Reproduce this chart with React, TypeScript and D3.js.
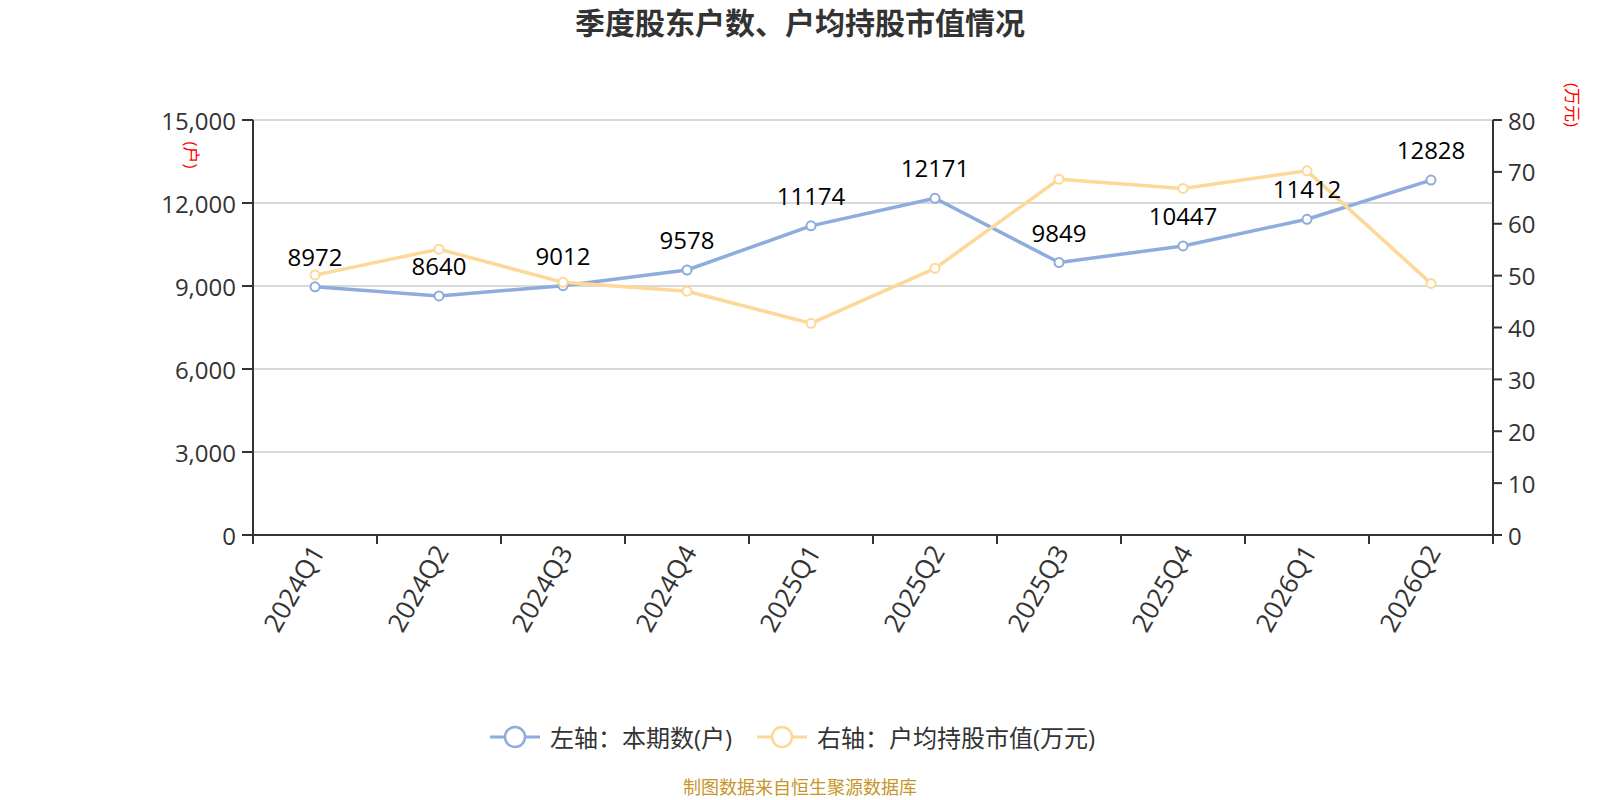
import React from "react";
import * as d3 from "d3";

const categories = ["2024Q1","2024Q2","2024Q3","2024Q4","2025Q1","2025Q2","2025Q3","2025Q4","2026Q1","2026Q2"];
const holders = [8972, 8640, 9012, 9578, 11174, 12171, 9849, 10447, 11412, 12828];
const avgValue = [50.1, 55.1, 48.7, 47.0, 40.8, 51.4, 68.6, 66.8, 70.2, 48.5];
const leftTicks = [0, 3000, 6000, 9000, 12000, 15000];
const rightTicks = [0, 10, 20, 30, 40, 50, 60, 70, 80];
const title = "季度股东户数、户均持股市值情况";
const legendNames = ["左轴：本期数(户)", "右轴：户均持股市值(万元)"];
const footer = "制图数据来自恒生聚源数据库";

const W = 1600, H = 800;
const M = { left: 253, right: 1493, top: 120, bottom: 535 };
const BLUE = "#8eacdc";
const ORANGE = "#fdd898";
const FONT = "'Open Sans', 'Noto Sans CJK SC', sans-serif";

export default function App() {
  const x = d3.scaleBand<string>().domain(categories).range([M.left, M.right]);
  const yL = d3.scaleLinear().domain([0, 15000]).range([M.bottom, M.top]);
  const yR = d3.scaleLinear().domain([0, 80]).range([M.bottom, M.top]);
  const cx = (c: string) => (x(c) as number) + x.bandwidth() / 2;
  const lineL = d3.line<number>().x((_, i) => cx(categories[i])).y((d) => yL(d));
  const lineR = d3.line<number>().x((_, i) => cx(categories[i])).y((d) => yR(d));
  const boundaries = categories.map((c) => x(c) as number).concat([M.right]);

  return (
    <svg width={W} height={H} style={{ position: "absolute", left: 0, top: 0, background: "#fff" }} fontFamily={FONT}>
      <text x={800} y={34} textAnchor="middle" fontSize={30} fontWeight="bold" fill="#333">{title}</text>

      {/* grid */}
      {leftTicks.map((t) => (
        <line key={"g" + t} x1={M.left} x2={M.right} y1={yL(t)} y2={yL(t)} stroke="#ccc" strokeWidth={1.5} />
      ))}

      {/* left axis */}
      <line x1={M.left} x2={M.left} y1={M.top} y2={M.bottom} stroke="#333" strokeWidth={2} />
      {leftTicks.map((t) => (
        <g key={"l" + t}>
          <line x1={M.left - 11} x2={M.left} y1={yL(t)} y2={yL(t)} stroke="#333" strokeWidth={2} />
          <text x={M.left - 17} y={yL(t)} textAnchor="end" dominantBaseline="central" fontSize={24} fill="#333">{d3.format(",")(t)}</text>
        </g>
      ))}
      <text transform={`translate(191,155) rotate(90)`} textAnchor="middle" dominantBaseline="central" fontSize={17} fill="#ff0000">(户)</text>

      {/* right axis */}
      <line x1={M.right} x2={M.right} y1={M.top} y2={M.bottom} stroke="#333" strokeWidth={2} />
      {rightTicks.map((t) => (
        <g key={"r" + t}>
          <line x1={M.right} x2={M.right + 9} y1={yR(t)} y2={yR(t)} stroke="#333" strokeWidth={2} />
          <text x={M.right + 15} y={yR(t)} textAnchor="start" dominantBaseline="central" fontSize={24} fill="#333">{t}</text>
        </g>
      ))}
      <text transform={`translate(1572,105) rotate(90)`} textAnchor="middle" dominantBaseline="central" fontSize={17} fill="#ff0000">(万元)</text>

      {/* x axis */}
      <line x1={M.left} x2={M.right} y1={M.bottom} y2={M.bottom} stroke="#333" strokeWidth={2} />
      {boundaries.map((b, i) => (
        <line key={"xt" + i} x1={b} x2={b} y1={M.bottom} y2={M.bottom + 9} stroke="#333" strokeWidth={2} />
      ))}
      {categories.map((c) => (
        <text key={"xl" + c} transform={`translate(${cx(c) + 2},${M.bottom + 12}) rotate(-60)`} textAnchor="end" dominantBaseline="central" fontSize={26} fill="#333">{c}</text>
      ))}

      {/* lines */}
      <path d={lineL(holders) || ""} fill="none" stroke={BLUE} strokeWidth={3.5} strokeLinejoin="round" />
      <path d={lineR(avgValue) || ""} fill="none" stroke={ORANGE} strokeWidth={3.5} strokeLinejoin="round" />
      {holders.map((v, i) => (
        <circle key={"bp" + i} cx={cx(categories[i])} cy={yL(v)} r={4.5} fill="#fff" stroke={BLUE} strokeWidth={2} />
      ))}
      {avgValue.map((v, i) => (
        <circle key={"op" + i} cx={cx(categories[i])} cy={yR(v)} r={4.5} fill="#fff" stroke={ORANGE} strokeWidth={2} />
      ))}
      {holders.map((v, i) => (
        <text key={"dl" + i} x={cx(categories[i])} y={yL(v) - 21} textAnchor="middle" fontSize={24} fill="#000">{v}</text>
      ))}

      {/* legend */}
      <g>
        <line x1={490} x2={540} y1={737} y2={737} stroke={BLUE} strokeWidth={3} />
        <circle cx={515} cy={737} r={10} fill="#fff" stroke={BLUE} strokeWidth={2.5} />
        <text x={550} y={737} dominantBaseline="central" fontSize={24} fill="#333">{legendNames[0]}</text>
        <line x1={757} x2={807} y1={737} y2={737} stroke={ORANGE} strokeWidth={3} />
        <circle cx={782} cy={737} r={10} fill="#fff" stroke={ORANGE} strokeWidth={2.5} />
        <text x={817} y={737} dominantBaseline="central" fontSize={24} fill="#333">{legendNames[1]}</text>
      </g>

      <text x={800} y={787} textAnchor="middle" dominantBaseline="central" fontSize={18} fill="#c8952a">{footer}</text>
    </svg>
  );
}
